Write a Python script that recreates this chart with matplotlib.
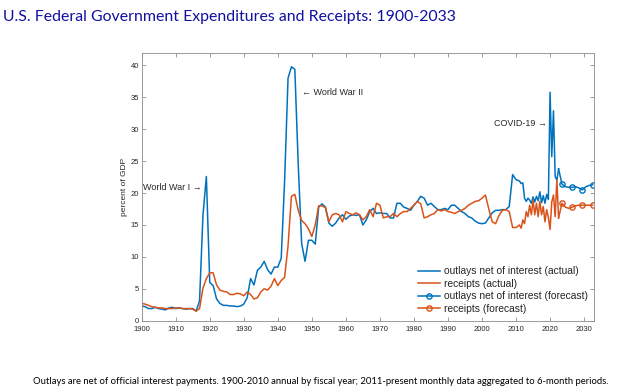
import numpy as np
import matplotlib
matplotlib.use('Agg')
import matplotlib.pyplot as plt

# Annual data 1900-2010 (percent of GDP)
years = np.arange(1900, 2011)
outlays = [2.3, 2.2, 1.9, 1.9, 2.1, 1.9, 1.8, 1.7, 2.0, 2.1,
           1.9, 2.0, 1.9, 1.8, 1.9, 1.9, 1.5, 3.1, 16.5, 22.6,
           6.0, 5.5, 3.4, 2.7, 2.4, 2.4, 2.3, 2.3, 2.2, 2.3,
           2.6, 3.6, 6.6, 5.6, 7.9, 8.4, 9.3, 8.0, 7.3, 8.4,
           8.4, 9.8, 22.0, 38.0, 39.8, 39.4, 24.5, 12.1, 9.3, 12.6,
           12.6, 12.0, 17.8, 18.3, 17.8, 15.3, 14.8, 15.3, 16.1, 16.6,
           15.9, 16.4, 16.6, 16.5, 16.6, 15.0, 15.8, 17.1, 17.6, 16.8,
           16.9, 16.8, 16.8, 16.1, 16.1, 18.4, 18.4, 17.8, 17.6, 17.3,
           18.1, 18.7, 19.5, 19.2, 18.1, 18.4, 17.9, 17.4, 17.4, 17.6,
           17.4, 18.1, 18.1, 17.6, 17.1, 16.8, 16.3, 16.1, 15.6, 15.3,
           15.2, 15.3, 16.1, 16.9, 17.3, 17.3, 17.4, 17.4, 17.9, 22.9,
           22.1]
receipts = [2.7, 2.6, 2.4, 2.2, 2.1, 2.0, 2.0, 1.9, 1.9, 1.9,
            2.0, 2.0, 1.9, 1.9, 1.9, 1.8, 1.5, 1.9, 5.1, 6.6,
            7.5, 7.5, 5.6, 4.8, 4.6, 4.5, 4.1, 4.1, 4.3, 4.2,
            3.9, 4.5, 4.1, 3.4, 3.6, 4.5, 5.0, 4.8, 5.4, 6.6,
            5.5, 6.3, 6.8, 11.7, 19.5, 19.8, 17.3, 15.7, 15.2, 14.4,
            13.2, 15.0, 18.0, 18.0, 17.7, 15.5, 16.6, 16.8, 16.6, 15.5,
            17.1, 16.8, 16.6, 16.9, 16.6, 15.8, 16.3, 17.4, 16.3, 18.4,
            18.1, 16.1, 16.3, 16.3, 16.8, 16.3, 16.8, 17.1, 17.1, 17.6,
            18.1, 18.7, 18.3, 16.1, 16.3, 16.6, 16.8, 17.4, 17.2, 17.4,
            17.1, 17.0, 16.8, 17.1, 17.3, 17.6, 18.1, 18.4, 18.7, 18.8,
            19.2, 19.7, 17.5, 15.5, 15.2, 16.5, 17.3, 17.4, 17.1, 14.6,
            14.6]

# 6-month periods 2011-2022
half_years = np.arange(2011.0, 2023.0, 0.5)
outlays_half = [21.9, 21.5, 21.6, 19.2, 18.7, 19.2, 18.9, 18.4, 19.4, 18.6,
                19.5, 18.8, 20.2, 18.5, 19.6, 18.4, 19.8, 19.0, 35.8, 25.7,
                32.9, 22.6, 22.0, 23.8]
receipts_half = [15.0, 14.5, 15.8, 15.2, 17.1, 16.3, 18.1, 16.6, 18.9, 16.6,
                 18.4, 16.3, 18.7, 16.6, 17.9, 15.5, 17.4, 16.2, 14.3, 18.6,
                 19.7, 16.3, 22.1, 16.1]

# forecast
fc_years = np.arange(2023.5, 2033.0, 1.0)
outlays_fc = [21.4, 21.0, 20.9, 20.9, 21.0, 20.8, 20.5, 21.0, 21.2, 21.3]
receipts_fc = [18.4, 17.8, 17.6, 17.8, 18.0, 18.1, 18.1, 18.1, 18.1, 18.1]

blue = '#0072BD'
red = '#D95319'

fig = plt.figure(figsize=(6.4, 3.89), dpi=100)
ax = fig.add_axes([0.2214, 0.1756, 0.7072, 0.6889])

x_act = np.concatenate([years, half_years])
ax.plot(x_act, outlays + outlays_half, color=blue, lw=1.1,
        label='outlays net of interest (actual)')
ax.plot(x_act, receipts + receipts_half, color=red, lw=1.1,
        label='receipts (actual)')

# forecast lines join on to last actual point
xf = np.concatenate([[half_years[-1]], fc_years])
marks = list(range(1, len(xf), 3))
ax.plot(xf, [outlays_half[-1]] + outlays_fc, color=blue, lw=1.1,
        marker='o', ms=3.8, mfc='none', mew=1.0, markevery=marks,
        label='outlays net of interest (forecast)')
ax.plot(xf, [receipts_half[-1]] + receipts_fc, color=red, lw=1.1,
        marker='o', ms=3.8, mfc='none', mew=1.0, markevery=marks,
        label='receipts (forecast)')

ax.set_xlim(1900, 2033)
ax.set_ylim(0, 42)
ax.set_xticks(np.arange(1900, 2031, 10))
ax.set_yticks(np.arange(0, 41, 5))
ax.tick_params(direction='in', length=3, width=0.6, labelsize=5.5,
               colors='#262626', top=True, right=True, pad=2)
ax.tick_params(axis='x', pad=3.5)
for s in ax.spines.values():
    s.set_color('#8c8c8c')
    s.set_linewidth(0.6)
ax.tick_params(axis='both', color='#8c8c8c')
ax.set_ylabel('percent of GDP', fontsize=6, color='#262626',
              family='Liberation Sans', labelpad=2)
for lab in ax.get_xticklabels() + ax.get_yticklabels():
    lab.set_family('Liberation Sans')

txt = dict(fontsize=6.5, color='#262626', family=['Liberation Sans', 'DejaVu Sans'], va='center')
ax.text(1917.6, 20.9, 'World War I \u2192', ha='right', **txt)
ax.text(1947.1, 35.8, '\u2190 World War II', ha='left', **txt)
ax.text(2019.1, 30.9, 'COVID-19 \u2192', ha='right', **txt)

leg = ax.legend(loc='lower right', frameon=False,
                prop={'family': 'Liberation Sans', 'size': 7.4},
                handlelength=2.1, labelspacing=0.25, handletextpad=0.35,
                borderaxespad=0.25)
for t in leg.get_texts():
    t.set_color('#262626')

fig.text(0.005, 0.956, 'U.S. Federal Government Expenditures and Receipts: 1900-2033',
         fontsize=11.4, color='#1010A0', family='Lato', va='center', ha='left')
fig.text(0.052, 0.02, 'Outlays are net of official interest payments. 1900-2010 annual by fiscal year; '
         '2011-present monthly data aggregated to 6-month periods.',
         fontsize=6.8, color='black', family='Lato', va='center', ha='left')

fig.savefig('out.png', dpi=100)
